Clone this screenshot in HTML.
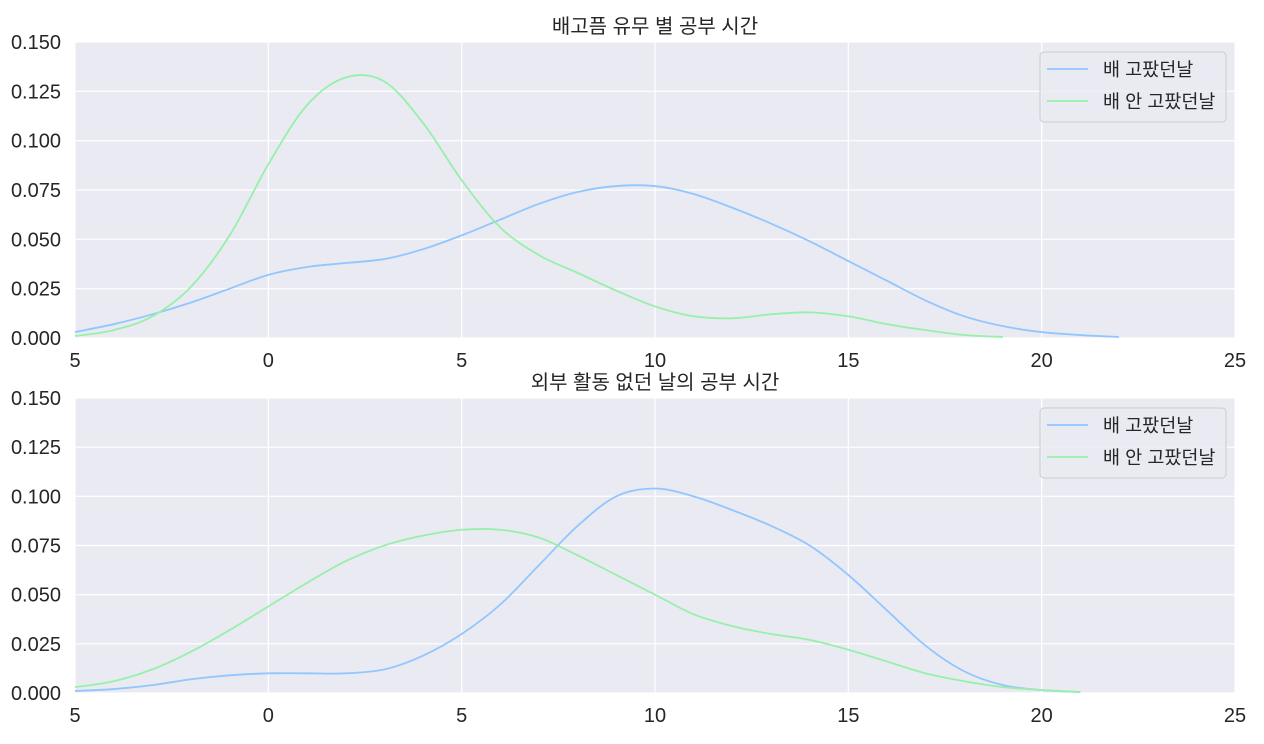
<!DOCTYPE html>
<html><head><meta charset="utf-8"><style>
body{margin:0;background:#fff;}
svg text{font-family:"Liberation Sans","Noto Sans CJK KR",sans-serif;fill:#262626;}
</style></head><body>
<svg id="c" width="1264" height="739"></svg>
<script>
const xTicks=[-5,0,5,10,15,20,25];
const xTickLabels=['5','0','5','10','15','20','25'];
const yTicks=[0,0.025,0.05,0.075,0.1,0.125,0.15];
const yTickLabels=['0.000','0.025','0.050','0.075','0.100','0.125','0.150'];
const seriesNames=['배 고팠던날','배 안 고팠던날'];
const titles=['배고픔 유무 별 공부 시간','외부 활동 없던 날의 공부 시간'];
const topHungryX=[-5,-4,-3,-2,-1,0,1,2,3,4,5,6,7,8,9,10,11,12,13,14,15,16,17,18,19,20,21,22];
const topHungry=[0.003,0.007,0.012,0.018,0.025,0.032,0.036,0.038,0.040,0.045,0.052,0.060,0.068,0.074,0.077,0.077,0.073,0.066,0.058,0.049,0.039,0.029,0.019,0.011,0.006,0.003,0.0015,0.0005];
const topFullX=[-5,-4,-3,-2,-1,0,1,2,3,4,5,6,7,8,9,10,11,12,13,14,15,16,17,18,19];
const topFull=[0.001,0.004,0.011,0.026,0.052,0.088,0.118,0.132,0.130,0.109,0.080,0.056,0.042,0.033,0.024,0.016,0.011,0.010,0.012,0.013,0.011,0.007,0.004,0.0015,0.0005];
const botHungryX=[-5,-4,-3,-2,-1,0,1,2,3,4,5,6,7,8,9,10,11,12,13,14,15,16,17,18,19,20,21];
const botHungry=[0.001,0.002,0.004,0.007,0.009,0.010,0.010,0.010,0.012,0.019,0.030,0.045,0.065,0.085,0.100,0.104,0.100,0.093,0.085,0.075,0.060,0.042,0.024,0.011,0.004,0.0015,0.0005];
const botFullX=[-5,-4,-3,-2,-1,0,1,2,3,4,5,6,7,8,9,10,11,12,13,14,15,16,17,18,19,20,21];
const botFull=[0.003,0.006,0.012,0.021,0.032,0.044,0.056,0.067,0.075,0.080,0.083,0.083,0.079,0.070,0.060,0.050,0.040,0.034,0.030,0.027,0.022,0.016,0.010,0.006,0.003,0.0015,0.0005];
const colors=['#92c6ff','#97f0aa'];
const NS='http://www.w3.org/2000/svg';
const svg=document.getElementById('c');
const L=75,R=1235;
function mk(tag,attrs,parent){const e=document.createElementNS(NS,tag);for(const k in attrs)e.setAttribute(k,attrs[k]);(parent||svg).appendChild(e);return e;}
function panel(top,bottom,title,series,idx){
  const g=mk('g',{});
  
  
  const sx=v=>L+(v+5)/30*(R-L);
  const sy=v=>bottom-v/0.15*(bottom-top);
  const bg=mk('rect',{x:L,y:top,width:R-L,height:bottom-top,fill:'#eaeaf2'},g);
  
  xTicks.forEach((t,i)=>{
    mk('line',{x1:sx(t),x2:sx(t),y1:top,y2:bottom,stroke:'#fff','stroke-width':1.2},g);
    const tx=mk('text',{x:sx(t),y:bottom+29,'text-anchor':'middle','font-size':20},g);
    tx.textContent=xTickLabels[i];
    
  });
  yTicks.forEach((t,i)=>{
    mk('line',{x1:L,x2:R,y1:sy(t),y2:sy(t),stroke:'#fff','stroke-width':1.2},g);
    const tx=mk('text',{x:L-14,y:sy(t)+7,'text-anchor':'end','font-size':20},g);
    tx.textContent=yTickLabels[i];
    
  });
  series.forEach((s,k)=>{
    const p=s.x.map((x,i)=>[sx(x),sy(s.y[i])]);
    let d='M'+p[0][0]+','+p[0][1];
    for(let i=0;i<p.length-1;i++){
      const p0=p[Math.max(0,i-1)],p1=p[i],p2=p[i+1],p3=p[Math.min(p.length-1,i+2)];
      d+=' C'+(p1[0]+(p2[0]-p0[0])/6)+','+(p1[1]+(p2[1]-p0[1])/6)+' '+(p2[0]-(p3[0]-p1[0])/6)+','+(p2[1]-(p3[1]-p1[1])/6)+' '+p2[0]+','+p2[1];
    }
    const path=mk('path',{d:d,fill:'none',stroke:colors[k],'stroke-width':1.8},g);
    
    
  });
  const tt=mk('text',{x:(L+R)/2,y:top-9,'text-anchor':'middle','font-size':20},g);
  tt.textContent=title;
  
  const lg=mk('g',{},g);
  
  mk('rect',{x:1040,y:top+10,width:186,height:70,rx:4,fill:'#eaeaf2','fill-opacity':0.8,stroke:'#cccccc'},lg);
  seriesNames.forEach((n,k)=>{
    const y=top+27+k*32;
    mk('line',{x1:1047,x2:1088,y1:y,y2:y,stroke:colors[k],'stroke-width':1.8},lg);
    const t=mk('text',{x:1103,y:y+7,'font-size':18.5},lg);
    t.textContent=n;
    
  });
}
panel(42,338,titles[0],[{x:topHungryX,y:topHungry},{x:topFullX,y:topFull}],0);
panel(398,693,titles[1],[{x:botHungryX,y:botHungry},{x:botFullX,y:botFull}],1);
</script>
</body></html>
